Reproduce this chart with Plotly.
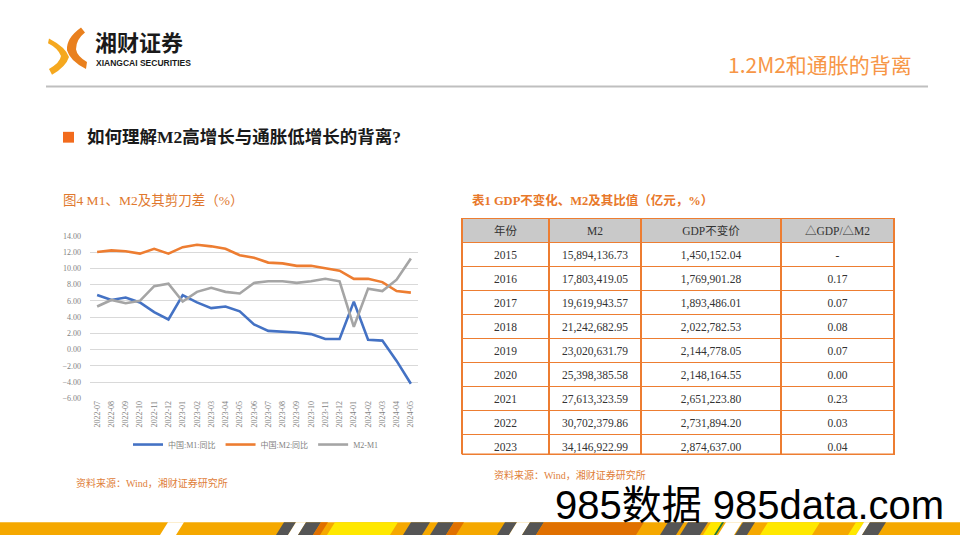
import plotly.graph_objects as go

W, H = 960, 540
def X(px): return px / W
def Y(py): return 1 - py / H

# ---------------- data ----------------
months = ["2022-07","2022-08","2022-09","2022-10","2022-11","2022-12",
          "2023-01","2023-02","2023-03","2023-04","2023-05","2023-06",
          "2023-07","2023-08","2023-09","2023-10","2023-11","2023-12",
          "2024-01","2024-02","2024-03","2024-04","2024-05"]
m1_yoy = [6.7, 6.1, 6.4, 5.8, 4.6, 3.7, 6.7, 5.8, 5.1, 5.3, 4.7, 3.1,
          2.3, 2.2, 2.1, 1.9, 1.3, 1.3, 5.9, 1.2, 1.1, -1.4, -4.2]
m2_yoy = [12.0, 12.2, 12.1, 11.8, 12.4, 11.8, 12.6, 12.9, 12.7, 12.4, 11.6, 11.3,
          10.7, 10.6, 10.3, 10.3, 10.0, 9.7, 8.7, 8.7, 8.3, 7.2, 7.0]
m2_m1 = [5.3, 6.1, 5.7, 6.0, 7.8, 8.1, 5.9, 7.1, 7.6, 7.1, 6.9, 8.2,
         8.4, 8.4, 8.2, 8.4, 8.7, 8.4, 2.8, 7.5, 7.2, 8.6, 11.2]
series_names = ["中国:M1:同比", "中国:M2:同比", "M2-M1"]

table_header = ["年份", "M2", "GDP不变价", "△GDP/△M2"]
years = ["2015","2016","2017","2018","2019","2020","2021","2022","2023"]
m2_values = ["15,894,136.73","17,803,419.05","19,619,943.57","21,242,682.95",
             "23,020,631.79","25,398,385.58","27,613,323.59","30,702,379.86","34,146,922.99"]
gdp_values = ["1,450,152.04","1,769,901.28","1,893,486.01","2,022,782.53",
              "2,144,778.05","2,148,164.55","2,651,223.80","2,731,894.20","2,874,637.00"]
ratio_values = ["-","0.17","0.07","0.08","0.07","0.00","0.23","0.03","0.04"]

# ---------------- figure ----------------
fig = go.Figure()
colors = ["#4472C4", "#ED7D31", "#A5A5A5"]
for name, vals, c in zip(series_names, [m1_yoy, m2_yoy, m2_m1], colors):
    fig.add_trace(go.Scatter(x=months, y=vals, name=name, mode="lines",
                             line=dict(color=c, width=2.6)))

SERIF = "Liberation Serif, Noto Sans CJK SC, serif"
CJK = "Noto Sans CJK SC, sans-serif"

fig.add_trace(go.Table(
    domain=dict(x=[X(462), X(895)], y=[Y(459), Y(218)]),
    columnwidth=[87, 92, 140, 113],
    header=dict(values=table_header, fill_color="#C9C9C9",
                line=dict(color="#ED7D31", width=1.5), height=24,
                align="center", font=dict(family=SERIF, size=11.5, color="#333333")),
    cells=dict(values=[years, m2_values, gdp_values, ratio_values],
               fill_color="white", line=dict(color="#ED7D31", width=1.5), height=24,
               align="center", font=dict(family=SERIF, size=11.5, color="#333333")),
))

fig.update_layout(
    width=W, height=H, margin=dict(l=0, r=0, t=0, b=0),
    paper_bgcolor="white", plot_bgcolor="white",
    xaxis=dict(domain=[X(90), X(418)], range=[-0.5, 22.5], type="category",
               tickangle=-90, tickfont=dict(family=SERIF, size=8, color="#7F7F7F"),
               showgrid=False, showline=False, ticks="", zeroline=False),
    yaxis=dict(domain=[Y(401), Y(235.7)], range=[-6, 14], dtick=2, tickformat=".2f",
               tickfont=dict(family=SERIF, size=8, color="#7F7F7F"),
               showgrid=True, gridcolor="#D9D9D9", gridwidth=1,
               zeroline=True, zerolinecolor="#D9D9D9", zerolinewidth=1,
               showline=False, ticks="", fixedrange=True, ticklabelstandoff=8),
    showlegend=True,
    legend=dict(orientation="h", x=X(128), y=Y(448), xanchor="left", yanchor="middle",
                font=dict(family=SERIF, size=8, color="#7F7F7F"),
                bgcolor="rgba(0,0,0,0)", itemwidth=30, tracegroupgap=0),
)

shapes = []
# title underline
shapes.append(dict(type="line", xref="paper", yref="paper", x0=X(46), x1=X(928),
                   y0=Y(84), y1=Y(84), line=dict(color="#BFBFBF", width=2)))
# bullet square
shapes.append(dict(type="rect", xref="paper", yref="paper", x0=X(63), x1=X(74),
                   y0=Y(141), y1=Y(130), fillcolor="#F26B1D", line=dict(width=0)))
# table bottom border
shapes.append(dict(type="line", xref="paper", yref="paper", x0=X(462), x1=X(895),
                   y0=Y(458), y1=Y(458), line=dict(color="#ED7D31", width=1.5)))

def path(points):
    return "M " + " L ".join(f"{X(a):.5f},{Y(b):.5f}" for a, b in points) + " Z"

def qpath(cmds):
    out = []
    for c in cmds:
        if c[0] == "M":
            out.append(f"M {X(c[1]):.5f},{Y(c[2]):.5f}")
        elif c[0] == "L":
            out.append(f"L {X(c[1]):.5f},{Y(c[2]):.5f}")
        elif c[0] == "Q":
            out.append(f"Q {X(c[1]):.5f},{Y(c[2]):.5f} {X(c[3]):.5f},{Y(c[4]):.5f}")
    return " ".join(out) + " Z"

# logo
shapes.append(dict(type="path", xref="paper", yref="paper", line=dict(width=0),
                   fillcolor="#F5A81F",
                   path=qpath([("M", 49, 35), ("Q", 66, 44, 69, 54), ("Q", 66, 64, 52, 72),
                               ("L", 49, 66), ("Q", 60, 60, 61, 53), ("Q", 58, 45, 48, 40)])))
shapes.append(dict(type="path", xref="paper", yref="paper", line=dict(width=0),
                   fillcolor="#E9801E",
                   path=qpath([("M", 81, 24), ("Q", 66, 35, 67, 47), ("Q", 70, 58, 86, 66),
                               ("L", 87, 59), ("Q", 77, 53, 76, 46), ("Q", 76, 36, 85, 29)])))

# bottom stripe
shapes.append(dict(type="rect", xref="paper", yref="paper", x0=0, x1=1, y0=0, y1=Y(527),
                   fillcolor="#F5A800", line=dict(width=0)))
stripes = [(160, 176, "#FFFFFF"), (276, 288, "#555555"), (288, 298, "#FFFFFF"),
           (298, 313, "#555555"), (313, 320, "#E07000"), (327, 390, "#FFE800"),
           (403, 422, "#555555"), (430, 446, "#555555"), (446, 456, "#E07000"),
           (497, 509, "#555555"), (509, 522, "#FFFFFF"), (522, 536, "#555555"),
           (536, 636, "#E07000"), (660, 676, "#555555"), (680, 700, "#555555"),
           (703, 714, "#FFE800"), (714, 716, "#1A7A3A"), (718, 734, "#FFFFFF"),
           (735, 747, "#555555"), (760, 812, "#FFE800"), (848, 856, "#FFE800"),
           (856, 862, "#FFFFFF"), (862, 878, "#555555")]
for a, b, c in stripes:
    shapes.append(dict(type="path", xref="paper", yref="paper", line=dict(width=0),
                       fillcolor=c, path=path([(a, 540), (b, 540), (b + 8, 527), (a + 8, 527)])))

fig.update_layout(shapes=shapes)

ann = []
ann.append(dict(text="<b>湘财证券</b>", x=X(94), y=Y(38), xanchor="left", yanchor="middle",
                font=dict(family=CJK, size=22, color="#1A1A1A"), borderpad=0))
ann.append(dict(text="<b>XIANGCAI SECURITIES</b>", x=X(95), y=Y(60), xanchor="left", yanchor="middle",
                font=dict(family="Liberation Sans, Arial", size=8.5, color="#1A1A1A"), borderpad=0))
ann.append(dict(text="1.2M2和通胀的背离", x=X(914), y=Y(61), xanchor="right", yanchor="middle",
                font=dict(family=CJK, size=21, color="#F79646")))
ann.append(dict(text="<b>如何理解M2高增长与通胀低增长的背离?</b>", x=X(85), y=Y(135),
                xanchor="left", yanchor="middle",
                font=dict(family=SERIF, size=17.5, color="#1A1A1A")))
ann.append(dict(text="图4 M1、M2及其剪刀差（%）", x=X(61), y=Y(200), xanchor="left", yanchor="middle",
                font=dict(family=SERIF, size=13.5, color="#E0782E")))
ann.append(dict(text="<b>表1 GDP不变化、M2及其比值（亿元，%）</b>", x=X(470), y=Y(200),
                xanchor="left", yanchor="middle",
                font=dict(family=SERIF, size=12.5, color="#E8782A")))
ann.append(dict(text="资料来源：Wind，湘财证券研究所", x=X(74), y=Y(487), xanchor="left", yanchor="middle",
                font=dict(family=SERIF, size=10, color="#E0803A")))
ann.append(dict(text="资料来源：Wind，湘财证券研究所", x=X(492), y=Y(479), xanchor="left", yanchor="middle",
                font=dict(family=SERIF, size=10, color="#E0803A")))
ann.append(dict(text="985数据 985data.com", x=X(553), y=Y(509), xanchor="left", yanchor="middle",
                font=dict(family="Liberation Sans, Noto Sans CJK SC", size=40, color="#000000")))
for a in ann:
    a.update(xref="paper", yref="paper", showarrow=False)
fig.update_layout(annotations=ann)

fig.write_html("out.html")
